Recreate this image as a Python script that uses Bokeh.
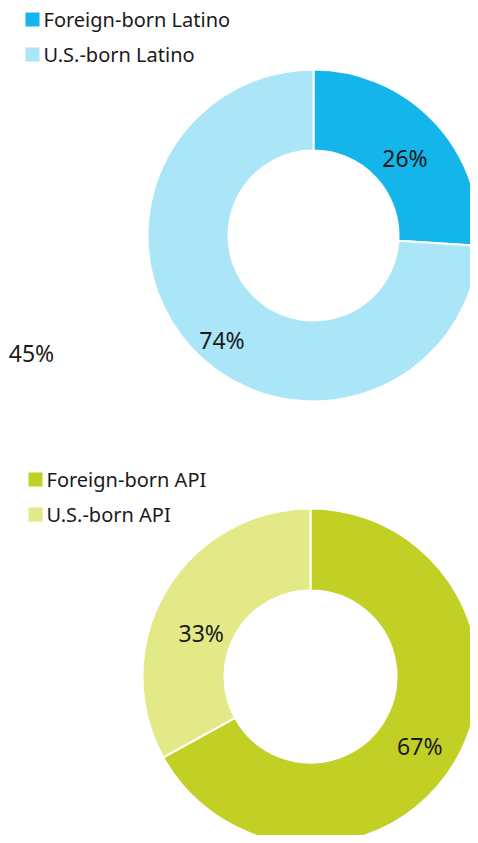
import math
from bokeh.plotting import figure
from bokeh.models import Range1d, ColumnDataSource
from bokeh.embed import file_html
from bokeh.resources import INLINE
from bokeh.core.properties import value

# ---- data ----
latino_labels = ["Foreign-born Latino", "U.S.-born Latino"]
latino_values = [26, 74]
latino_colors = ["#13B5EA", "#ABE6F8"]

api_labels = ["Foreign-born API", "U.S.-born API"]
api_values = [67, 33]
api_colors = ["#C2CF24", "#E3E986"]

stray_label = "45%"

# ---- layout (screenshot pixel coordinates, y measured downward) ----
W, H = 470, 835
FONT = "Noto Sans"
TXT = "#1a1a1a"

p = figure(width=W, height=H, output_backend="svg", toolbar_location=None,
           x_range=Range1d(0, W), y_range=Range1d(-H, 0),
           min_border=0, outline_line_color=None)
p.axis.visible = False
p.grid.visible = False
p.background_fill_color = "white"
p.border_fill_color = "white"


def donut(labels, values, colors, cx, cy, r_in, r_out, nudges,
          legend_x, legend_y, legend_gap):
    total = float(sum(values))
    starts, ends, lx, ly, txt = [], [], [], [], []
    a = math.pi / 2
    for v, (nx, ny) in zip(values, nudges):
        span = 2 * math.pi * v / total
        s, e = a, a - span
        starts.append(s)
        ends.append(e)
        mid = (s + e) / 2
        rl = (r_in + r_out) / 2
        lx.append(cx + rl * math.cos(mid) + nx)
        ly.append(-cy + rl * math.sin(mid) - ny)
        txt.append(f"{v}%")
        a = e
    src = ColumnDataSource(dict(x=[cx] * len(values), y=[-cy] * len(values),
                                start=starts, end=ends, color=colors))
    p.annular_wedge(x="x", y="y", inner_radius=r_in, outer_radius=r_out,
                    start_angle="start", end_angle="end", direction="clock",
                    fill_color="color", line_color="white", line_width=2,
                    source=src)
    p.text(x=lx, y=ly, text=txt, text_font=value(FONT),
           text_font_size="23px", text_color=TXT,
           text_align="center", text_baseline="middle")
    # legend
    sq = 14
    ys = [-(legend_y + i * legend_gap) for i in range(len(labels))]
    p.rect(x=[legend_x] * len(labels), y=ys, width=sq, height=sq,
           fill_color=colors, line_color=None)
    p.text(x=[legend_x + sq / 2 + 4] * len(labels), y=ys, text=labels,
           text_font=value(FONT), text_font_size="20px", text_color=TXT,
           text_align="left", text_baseline="middle")


donut(latino_labels, latino_values, latino_colors, 313, 235, 85, 166,
      [(0, 8), (0, 19)], 32, 19, 35)
donut(api_labels, api_values, api_colors, 310, 676, 86, 168,
      [(0, 5), (0, 21)], 35, 479, 35)

p.text(x=[31], y=[-352], text=[stray_label], text_font=value(FONT),
       text_font_size="23px", text_color=TXT, text_align="center",
       text_baseline="middle")

open("out.html", "w").write(file_html(p, INLINE))
